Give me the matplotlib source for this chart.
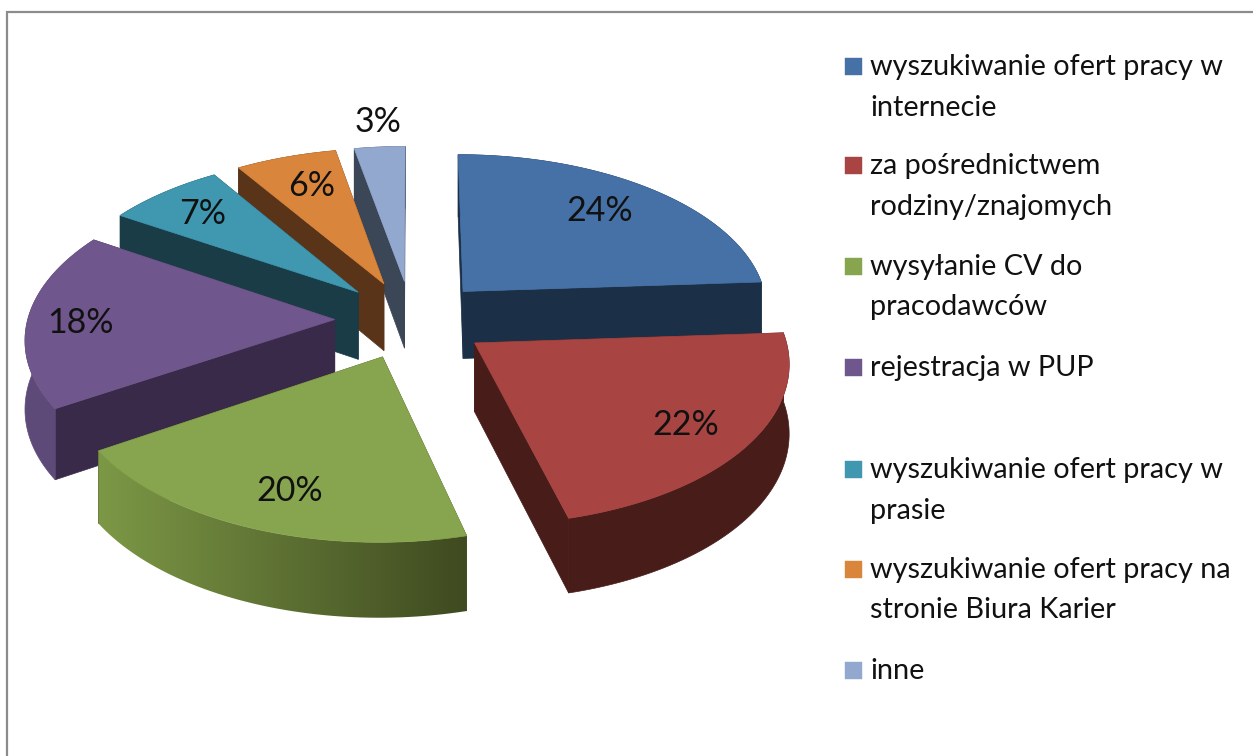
import numpy as np
import matplotlib
matplotlib.use("Agg")
import matplotlib.pyplot as plt
from matplotlib.colors import to_rgb, LinearSegmentedColormap
from matplotlib.patches import Polygon, Rectangle

# ---- data ----
categories = [
    "wyszukiwanie ofert pracy w\ninternecie",
    "za pośrednictwem\nrodziny/znajomych",
    "wysyłanie CV do\npracodawców",
    "rejestracja w PUP",
    "wyszukiwanie ofert pracy w\nprasie",
    "wyszukiwanie ofert pracy na\nstronie Biura Karier",
    "inne",
]
values = [24, 22, 20, 18, 7, 6, 3]

# ---- styles ----
top_colors = ["#4571a6", "#a84442", "#87a44e", "#6f568c", "#3f97b0", "#da853c", "#92a8cf"]
cut_colors = ["#1b2f47", "#471c19", "#3f4a20", "#3a2a4a", "#1a3c47", "#5a3418", "#3b4656"]
rim_from = ["#1b2f47", "#471c19", "#3f4a20", "#5e4a78", "#1a3c47", "#5a3418", "#3b4656"]
rim_to = ["#1b2f47", "#471c19", "#7c9846", "#5e4a78", "#1a3c47", "#5a3418", "#3b4656"]
draw_order = [0, 6, 5, 4, 3, 2, 1]
label_xy = [(600, 211), (686, 425), (290, 491), (80, 323), (203, 214), (312, 186), (378, 122)]
legend_y = [67, 166, 267, 368, 470, 570, 671]
FONT = "Lato"

# projection
CX, CY = 411.5, 319.5
AX, AY = 307.0, 157.0
B = 0.1067
EXPLODE = 0.25
DEPTH = 68.0


def project(u, v, z=0.0):
    f = 1.0 / (1.0 - B * v)
    return CX + AX * u * f, CY + AY * v * f + z * DEPTH / (1.0 - 0.08 * v)


fig = plt.figure(figsize=(12.53, 7.56), dpi=100, facecolor="white")
ax = fig.add_axes([0, 0, 1, 1])

# chart frame
ax.plot([7, 7, 1253], [756, 12, 12], color="#8c8c8c", lw=1.6, zorder=0, solid_joinstyle="miter")

vals = np.array(values, dtype=float)
edges = np.concatenate([[0], np.cumsum(vals)]) / vals.sum() * 2 * np.pi

z = 1
for i in draw_order:
    a0, a1 = edges[i], edges[i + 1]
    mid = (a0 + a1) / 2
    ou, ov = EXPLODE * np.sin(mid), -EXPLODE * np.cos(mid)
    th = np.linspace(a0, a1, 160)
    ru, rv = ou + np.sin(th), ov - np.cos(th)
    apex_top = project(ou, ov)
    apex_bot = project(ou, ov, 1)
    rx, ry = project(ru, rv)
    bx, by = project(ru, rv, 1)

    # cut faces
    for k in (0, -1):
        ax.add_patch(Polygon([apex_top, (rx[k], ry[k]), (bx[k], by[k]), apex_bot],
                             closed=True, fc=cut_colors[i], ec=cut_colors[i], lw=0.5, zorder=z))
    z += 1
    # outer wall
    wall = list(zip(rx, ry)) + list(zip(bx[::-1], by[::-1]))
    if rim_from[i] == rim_to[i]:
        ax.add_patch(Polygon(wall, closed=True, fc=rim_from[i], ec=rim_from[i], lw=0.5, zorder=z))
    else:
        # smooth left-to-right shading, clipped to the wall
        patch = Polygon(wall, closed=True, fc="none", ec="none", zorder=z)
        ax.add_patch(patch)
        cmap = LinearSegmentedColormap.from_list("wall", [rim_to[i], rim_from[i]])
        x0, x1 = min(rx.min(), bx.min()), max(rx.max(), bx.max())
        y0, y1 = min(ry.min(), by.min()), max(ry.max(), by.max())
        im = ax.imshow(np.linspace(0, 1, 256)[None, :], cmap=cmap, aspect="auto",
                       extent=(x0, x1, y1, y0), zorder=z, interpolation="bilinear")
        im.set_clip_path(patch)
    z += 1
    # top face
    pts = [apex_top] + list(zip(rx, ry))
    ax.add_patch(Polygon(pts, closed=True, fc=top_colors[i], ec=top_colors[i], lw=0.5, zorder=z))
    z += 1

total = vals.sum()
for v, (x, y) in zip(values, label_xy):
    ax.text(x, y, f"{round(v / total * 100)}%", ha="center", va="center",
            fontsize=24.5, family=FONT, color="#111111", zorder=100)

for name, col, y in zip(categories, top_colors, legend_y):
    ax.add_patch(Rectangle((845, y - 9), 17, 17, fc=col, ec=col, lw=0.3, zorder=100))
    for j, line in enumerate(name.split("\n")):
        ax.text(870, y + j * 40.5, line, ha="left", va="center", fontsize=20.8,
                family=FONT, color="#111111", zorder=100)

ax.set_xlim(0, 1253)
ax.set_ylim(756, 0)
ax.axis("off")

fig.savefig("out.png", dpi=100)
